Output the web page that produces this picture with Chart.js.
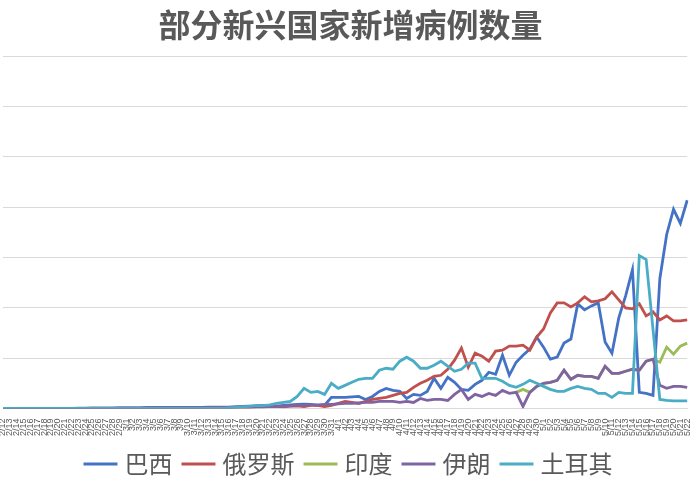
<!DOCTYPE html>
<html>
<head>
<meta charset="utf-8">
<script src="https://cdn.jsdelivr.net/npm/chart.js@4"></script>
<style>
  body { margin: 0; background: #fff; }
  #wrap { width: 700px; height: 500px; }
</style>
</head>
<body>
<div id="wrap"><canvas id="chart"></canvas></div>
<script>
// dates 2/12 .. 5/22
const months = [[2, 12, 29], [3, 1, 31], [4, 1, 30], [5, 1, 22]];
const labels = [];
months.forEach(([m, from, to]) => {
  for (let d = from; d <= to; d++) labels.push(m + "/" + d);
});

const brazil = [
  0, 0, 0, 0, 0, 0, 0, 0, 0, 0, 0, 0, 0, 0, 1, 0, 0, 0, 1, 1,
  0, 5, 6, 3, 0, 6, 9, 7, 25, 21, 30, 50, 80, 100, 150, 200, 220, 250, 300, 250,
  240, 300, 350, 400, 420, 400, 300, 320, 1100, 1100, 1100, 1150, 1200, 900, 1200, 1700, 2000, 1800, 1700, 1000,
  1400, 1300, 1700, 3000, 2000, 3100, 2600, 1900, 1800, 2400, 2800, 3600, 3400, 5300, 3300, 4600, 5300, 5900, 7100, 6100,
  4900, 5100, 6500, 6900, 10400, 9800, 10200, 10500, 6600, 5500, 9000, 11200, 13800, 1600, 1500, 1300, 12900, 17300, 19800, 18400,
  20700
];
const russia = [
  0, 0, 0, 0, 0, 0, 0, 0, 0, 0, 0, 0, 0, 0, 0, 0, 0, 0, 0, 0,
  0, 0, 0, 0, 0, 0, 1, 3, 5, 7, 10, 20, 30, 50, 60, 70, 100, 150, 170, 200,
  200, 160, 230, 270, 180, 300, 300, 200, 300, 500, 700, 600, 500, 700, 900, 1000, 1100, 1300, 1500, 1600,
  2100, 2500, 2800, 3200, 3300, 3900, 4800, 6000, 4100, 5500, 5200, 4700, 5700, 5800, 6200, 6200, 6300, 5800, 7100, 7900,
  9500, 10500, 10500, 10100, 10500, 11100, 10600, 10700, 10900, 11600, 10800, 10000, 9900, 10400, 9200, 9600, 8800, 9200, 8700, 8700,
  8800
];
const india = [
  null, null, null, null, null, null, null, null, null, null, null, null, null, null, null, null, null, null, null, null,
  null, null, null, null, null, null, null, null, null, null, null, null, null, null, null, null, null, null, null, null,
  null, null, null, null, null, null, null, null, null, null, null, null, null, null, null, null, null, null, null, null,
  null, null, null, null, null, null, null, null, null, null, null, null, null, null, null, 1600, 1900, 1600, 2200, 2500,
  2600, 2800, 3800, 2900, 3300, 3200, 3200, 3000, 4200, 3500, 3500, 3700, 3900, 3800, 4700, 4900, 4600, 6100, 5400, 6200,
  6500
];
const iran = [
  0, 0, 0, 0, 0, 0, 0, 2, 3, 10, 20, 30, 40, 50, 60, 60, 70, 80, 80, 90,
  90, 100, 100, 100, 100, 110, 110, 120, 120, 120, 130, 130, 140, 140, 150, 150, 150, 160, 170, 180,
  190, 200, 250, 300, 300, 350, 350, 400, 400, 450, 500, 500, 550, 600, 600, 700, 700, 700, 600, 700,
  600, 1000, 800, 900, 900, 800, 1400, 1900, 900, 1400, 1200, 1500, 1300, 1800, 1500, 1600, 200, 1600, 2200, 2500,
  2600, 2800, 3800, 2900, 3300, 3200, 3200, 3000, 4200, 3500, 3500, 3700, 3900, 3800, 4700, 4900, 2300, 2000, 2200, 2200,
  2100
];
const turkey = [
  0, 0, 0, 0, 0, 0, 0, 0, 0, 0, 0, 0, 0, 0, 0, 0, 0, 0, 0, 0,
  0, 0, 0, 0, 0, 0, 0, 0, 1, 2, 5, 10, 20, 50, 100, 150, 200, 300, 290, 350,
  500, 600, 700, 1200, 2000, 1600, 1700, 1400, 2500, 2000, 2300, 2600, 2900, 3000, 3000, 3800, 4000, 3900, 4700, 5100,
  4700, 4000, 4000, 4300, 4700, 4200, 3700, 3900, 4500, 4500, 3000, 3000, 3000, 2700, 2300, 2100, 2400, 2800, 2500, 2200,
  1900, 1700, 1700, 2000, 2200, 2000, 1900, 1500, 1500, 1100, 1600, 1500, 1500, 15200, 14800, 7900, 900, 800, 750, 750,
  750
];

const yMax = 35000;
const yStep = 5000;

const line = (label, data, color, order) => ({
  label, data, order,
  borderColor: color,
  backgroundColor: color,
  borderWidth: 2.8,
  pointRadius: 0,
  tension: 0,
  spanGaps: false
});

new Chart(document.getElementById("chart"), {
  type: "line",
  data: {
    labels: labels,
    datasets: [
      line("巴西", brazil, "#4472C4", 5),
      line("俄罗斯", russia, "#C0504D", 4),
      line("印度", india, "#9BBB59", 3),
      line("伊朗", iran, "#8064A2", 2),
      line("土耳其", turkey, "#4BACC6", 1)
    ]
  },
  options: {
    responsive: true,
    maintainAspectRatio: false,
    animation: false,
    layout: { padding: { left: 3, right: 2, top: 0, bottom: 14 } },
    plugins: {
      title: {
        display: true,
        text: "部分新兴国家新增病例数量",
        color: "#595959",
        font: { family: "Noto Sans CJK SC", size: 32, weight: "bold" },
        padding: { top: 6, bottom: 12 }
      },
      legend: {
        position: "bottom",
        labels: {
          color: "#595959",
          font: { family: "Noto Sans CJK SC", size: 24 },
          usePointStyle: true,
          pointStyle: "line",
          boxWidth: 30,
          padding: 14,
          sort: (a, b) => a.datasetIndex - b.datasetIndex
        }
      },
      tooltip: { enabled: false }
    },
    scales: {
      x: {
        offset: false,
        grid: { display: false },
        border: { color: "#d9d9d9" },
        ticks: {
          color: "#595959",
          font: { family: "Liberation Sans", size: 9 },
          autoSkip: false,
          maxRotation: 90,
          minRotation: 90,
          padding: 2
        }
      },
      y: {
        min: 0,
        max: yMax,
        ticks: { display: false, stepSize: yStep },
        grid: { color: "#d9d9d9", drawTicks: false },
        border: { display: false }
      }
    }
  }
});
</script>
</body>
</html>
